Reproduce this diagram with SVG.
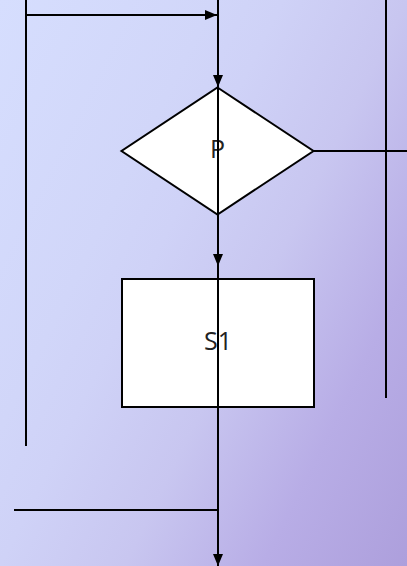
<svg xmlns="http://www.w3.org/2000/svg" width="407" height="566" viewBox="0 0 407 566">
  <defs>
    <linearGradient id="bg" x1="0" y1="0" x2="552" y2="276" gradientUnits="userSpaceOnUse">
      <stop offset="0" stop-color="#d6defe"/>
      <stop offset="0.31" stop-color="#d1d6f9"/>
      <stop offset="0.41" stop-color="#cfd2f7"/>
      <stop offset="0.59" stop-color="#c8c6f0"/>
      <stop offset="0.79" stop-color="#b8ade6"/>
      <stop offset="1" stop-color="#ad9fdc"/>
    </linearGradient>
    <marker id="arr" markerWidth="12" markerHeight="10" refX="12" refY="5" orient="auto" markerUnits="userSpaceOnUse">
      <path d="M0,0 L12,5 L0,10 Z" fill="#000"/>
    </marker>
    <style>
      .shape { fill: #fff; stroke: #000; stroke-width: 2; }
      .line { fill: none; stroke: #000; stroke-width: 2; }
      .lbl { font-family: "Open Sans", "Noto Sans", "DejaVu Sans", sans-serif; font-size: 25px; fill: #222; text-anchor: middle; }
    </style>
  </defs>
  <rect x="0" y="0" width="407" height="566" fill="url(#bg)"/>
  <g id="node-p">
    <polygon class="shape" points="217.5,87.5 313.5,151 217.5,214.5 121.5,151"/>
    <text class="lbl" x="217.5" y="158">P</text>
  </g>
  <g id="node-s1">
    <rect class="shape" x="122" y="279" width="192" height="128"/>
    <text class="lbl" x="218" y="350">S1</text>
  </g>
  <g id="connectors">
    <line class="line" x1="26" y1="0" x2="26" y2="446"/>
    <line class="line" x1="26" y1="15" x2="217" y2="15" marker-end="url(#arr)"/>
    <line class="line" x1="218" y1="0" x2="218" y2="87" marker-end="url(#arr)"/>
    <line class="line" x1="218" y1="87" x2="218" y2="266" marker-end="url(#arr)"/>
    <line class="line" x1="218" y1="266" x2="218" y2="566" marker-end="url(#arr)"/>
    <line class="line" x1="313" y1="151" x2="407" y2="151"/>
    <line class="line" x1="386" y1="0" x2="386" y2="398"/>
    <line class="line" x1="14" y1="510" x2="218" y2="510"/>
  </g>
</svg>
